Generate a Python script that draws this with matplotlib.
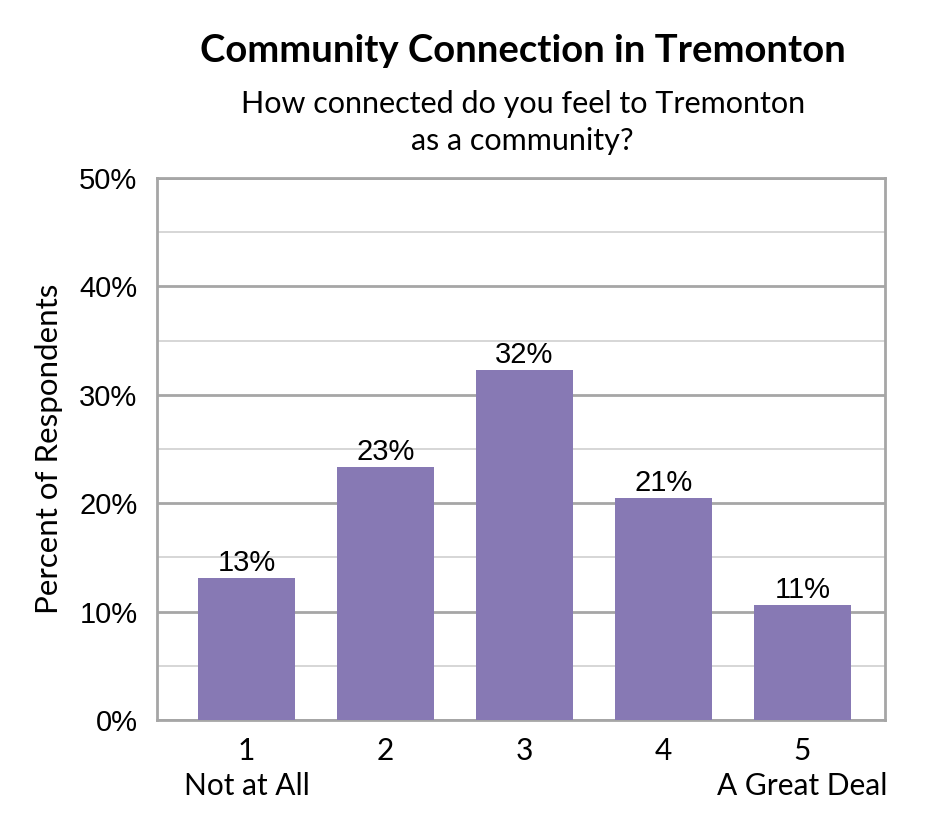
import matplotlib
matplotlib.use('Agg')
import matplotlib.pyplot as plt
from matplotlib.ticker import MultipleLocator, PercentFormatter

# data
categories = ['1\nNot at All', '2', '3', '4', '5\nA Great Deal']
values = [13.1, 23.3, 32.3, 20.5, 10.6]
labels = ['13%', '23%', '32%', '21%', '11%']

fig = plt.figure(figsize=(9.45, 8.4), dpi=100)
ax = fig.add_axes([0.166, 0.1429, 0.7705, 0.6452])

x = range(len(values))
bars = ax.bar(x, values, width=0.70, color='#8779B4', zorder=3)
ax.set_xlim(-0.644, 4.593)
ax.set_ylim(0, 50)

# gridlines
ax.yaxis.set_major_locator(MultipleLocator(10))
ax.yaxis.set_minor_locator(MultipleLocator(5))
ax.yaxis.set_major_formatter(PercentFormatter(decimals=0))
ax.grid(which='major', axis='y', color='#a6a6a6', linewidth=2, zorder=0)
ax.grid(which='minor', axis='y', color='#d0d0d0', linewidth=1.2, zorder=0)
for s in ax.spines.values():
    s.set_color('#a6a6a6')
    s.set_linewidth(2)

ax.tick_params(axis='both', which='both', length=0)
ax.tick_params(axis='y', labelsize=21, pad=14)
for t in ax.get_yticklabels():
    t.set_family('Liberation Sans')

ax.set_xticks(list(x))
ax.set_xticklabels(categories, fontsize=21.5, family='Lato', linespacing=1.3)
ax.tick_params(axis='x', pad=12)

for b, lab in zip(bars, labels):
    ax.text(b.get_x() + b.get_width() / 2, b.get_height() + 0.1, lab,
            ha='center', va='bottom', fontsize=21, family='Liberation Sans')

ax.set_ylabel('Percent of Respondents', fontsize=22.5, family='Lato', labelpad=12)

fig.text(0.553, 0.939, 'Community Connection in Tremonton', ha='center', va='center',
         fontsize=27.5, weight='bold', family='Lato')
fig.text(0.553, 0.854, 'How connected do you feel to Tremonton\nas a community?',
         ha='center', va='center', fontsize=22, family='Lato', linespacing=1.4)

fig.savefig('out.png', dpi=100)
